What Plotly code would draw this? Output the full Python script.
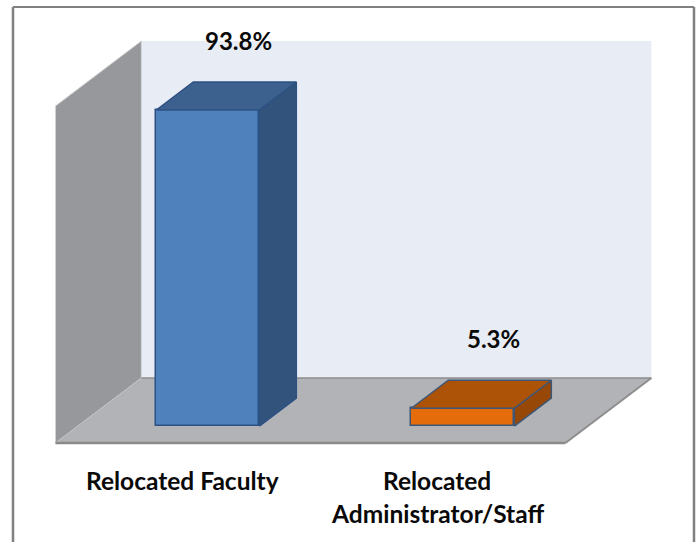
import plotly.graph_objects as go

# ---- data ----
categories = ["Relocated Faculty", "Relocated<br>Administrator/Staff"]
values = [93.8, 5.3]
value_labels = ["93.8%", "5.3%"]

# ---- styles ----
front_colors = ["#4F81BD", "#E46C0A"]
top_colors = ["#3C618E", "#AD5307"]
side_colors = ["#32537C", "#984806"]
edge_colors = ["#2D5182", "#3E5677"]
AXIS_MAX = 100

# oblique projection (x in category units, y in value units)
DX, DY = 0.337, 19.3     # shift per unit of depth
Z0, Z1 = 0.26, 0.69      # bar depth span
HALF_W = 0.202           # bar half width
X_LO, X_HI = -0.51, 1.49  # floor extent

W, H = 699, 542
PX_PER_X = 255.0
X_ORIGIN_PX = 185.5
PX_PER_Y = 3.37
Y_ORIGIN_PX = 443.0

x_range = [(0 - X_ORIGIN_PX) / PX_PER_X, (W - X_ORIGIN_PX) / PX_PER_X]
y_range = [-(H - Y_ORIGIN_PX) / PX_PER_Y, Y_ORIGIN_PX / PX_PER_Y]

fig = go.Figure()

# front faces: real bars
fig.add_trace(go.Bar(
    x=[i + Z0 * DX for i in range(len(values))],
    y=values,
    base=[Z0 * DY] * len(values),
    width=2 * HALF_W,
    marker=dict(color=front_colors, line=dict(color=edge_colors, width=1.5)),
    hoverinfo="skip",
    showlegend=False,
))

# side and top faces derived from the values
for i, v in enumerate(values):
    xl0, xr0 = i - HALF_W + Z0 * DX, i + HALF_W + Z0 * DX
    xl1, xr1 = i - HALF_W + Z1 * DX, i + HALF_W + Z1 * DX
    fig.add_trace(go.Scatter(
        x=[xr0, xr0, xr1, xr1, xr0],
        y=[Z0 * DY, v + Z0 * DY, v + Z1 * DY, Z1 * DY, Z0 * DY],
        fill="toself", fillcolor=side_colors[i], mode="lines",
        line=dict(color=edge_colors[i], width=1.5),
        hoverinfo="skip", showlegend=False,
    ))
    fig.add_trace(go.Scatter(
        x=[xl0, xr0, xr1, xl1, xl0],
        y=[v + Z0 * DY, v + Z0 * DY, v + Z1 * DY, v + Z1 * DY, v + Z0 * DY],
        fill="toself", fillcolor=top_colors[i], mode="lines",
        line=dict(color=edge_colors[i], width=1.5),
        hoverinfo="skip", showlegend=False,
    ))

shapes = []
# back wall
shapes.append(dict(type="rect", xref="x", yref="y", layer="below",
                   x0=X_LO + DX, x1=X_HI + DX, y0=DY, y1=DY + AXIS_MAX,
                   fillcolor="#E8ECF5", line=dict(width=0)))
# left wall
shapes.append(dict(type="path", xref="x", yref="y", layer="below",
                   path=f"M {X_LO},0 L {X_LO + DX},{DY} L {X_LO + DX},{DY + AXIS_MAX} L {X_LO},{AXIS_MAX} Z",
                   fillcolor="#97989B", line=dict(color="#D4D4D4", width=1)))
# floor
shapes.append(dict(type="path", xref="x", yref="y", layer="below",
                   path=f"M {X_LO},0 L {X_HI},0 L {X_HI + DX},{DY} L {X_LO + DX},{DY} Z",
                   fillcolor="#B1B3B6", line=dict(width=0)))
# floor edges
shapes.append(dict(type="line", xref="x", yref="y", layer="below",
                   x0=X_LO + DX, x1=X_HI + DX, y0=DY, y1=DY,
                   line=dict(color="#8E8E8E", width=1.5)))
shapes.append(dict(type="line", xref="x", yref="y", layer="below",
                   x0=X_HI, x1=X_HI + DX, y0=0, y1=DY,
                   line=dict(color="#8E8E8E", width=2)))
shapes.append(dict(type="line", xref="x", yref="y", layer="below",
                   x0=X_LO, x1=X_HI, y0=0, y1=0,
                   line=dict(color="#8A8A8A", width=2.5)))

# outer frame
fx0, fx1, fy0 = 13 / W, 694 / W, 1 - 7 / H
shapes.append(dict(type="line", xref="paper", yref="paper", x0=fx0, x1=fx0, y0=-0.05, y1=fy0,
                   line=dict(color="#808080", width=2.5)))
shapes.append(dict(type="line", xref="paper", yref="paper", x0=fx1, x1=fx1, y0=-0.05, y1=fy0,
                   line=dict(color="#808080", width=2.5)))
shapes.append(dict(type="line", xref="paper", yref="paper", x0=fx0, x1=fx1, y0=fy0, y1=fy0,
                   line=dict(color="#808080", width=2)))

annotations = []
FONT = "Lato"
# value labels
for i, (v, lab) in enumerate(zip(values, value_labels)):
    annotations.append(dict(
        x=i + 0.5 * (Z0 + Z1) * DX + 0.047, y=v + 0.5 * (Z0 + Z1) * DY + 16.5,
        xref="x", yref="y", text=f"<b>{lab}</b>", showarrow=False,
        xanchor="center", yanchor="middle",
        font=dict(family=FONT, size=24, color="#0A0A0A"),
    ))
# category labels (one annotation per line)
LINE_GAP = 33 / PX_PER_Y
FIRST_LINE_Y = -(480 - Y_ORIGIN_PX) / PX_PER_Y
for i, cat in enumerate(categories):
    for k, line in enumerate(cat.split("<br>")):
        annotations.append(dict(
            x=i - 0.012, y=FIRST_LINE_Y - k * LINE_GAP, xref="x", yref="y",
            text=f"<b>{line}</b>", showarrow=False,
            xanchor="center", yanchor="middle",
            font=dict(family=FONT, size=24.5, color="#0A0A0A"),
        ))

fig.update_layout(
    width=W, height=H, autosize=False,
    margin=dict(l=0, r=0, t=0, b=0),
    paper_bgcolor="white", plot_bgcolor="white",
    xaxis=dict(range=x_range, visible=False, fixedrange=True),
    yaxis=dict(range=y_range, visible=False, fixedrange=True),
    shapes=shapes, annotations=annotations,
    bargap=0, showlegend=False,
)

fig.write_html("out.html", config={"displayModeBar": False},
               post_script="document.body.style.margin='0';")
